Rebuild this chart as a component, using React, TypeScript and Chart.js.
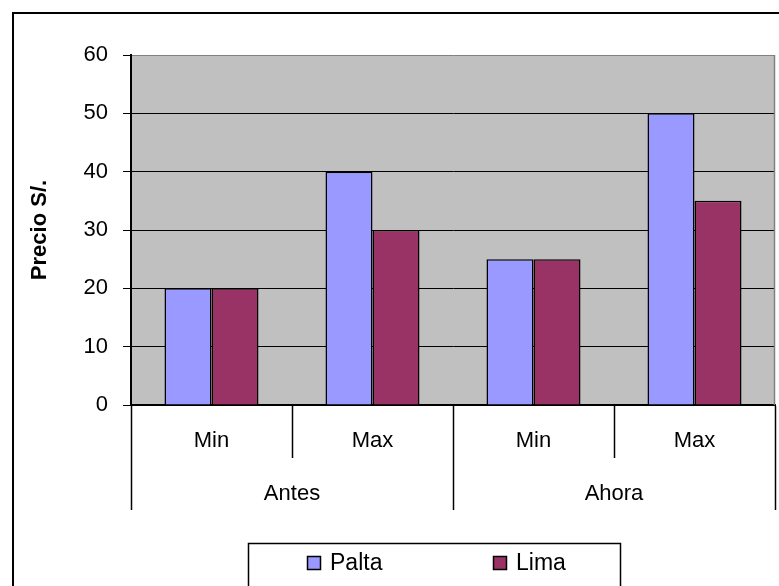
import { useEffect, useRef } from 'react';
import { Chart, registerables } from 'chart.js';

Chart.register(...registerables);

// Price data: two periods, each with a minimum and maximum price
const groups = ['Antes', 'Ahora'];
const categories = ['Min', 'Max', 'Min', 'Max'];
const paltaValues = [20, 40, 25, 50];
const limaValues = [20, 30, 25, 35];
const seriesNames = ['Palta', 'Lima'];
const seriesColors = ['#9999FF', '#993366'];
const yMin = 0;
const yMax = 60;
const yStep = 10;
const yTitle = 'Precio S/.';

const FAMILY = '"Liberation Sans", Arial, Helvetica, sans-serif';
const FONT_SIZE = 22;

// White page, outer frame and grey plot area
const frameAndPlot = {
  id: 'frameAndPlot',
  beforeDraw(chart: any) {
    const { ctx, chartArea } = chart;
    ctx.save();
    ctx.fillStyle = '#ffffff';
    ctx.fillRect(0, 0, chart.width, chart.height);
    ctx.strokeStyle = '#000000';
    ctx.lineWidth = 2;
    ctx.strokeRect(13, 13, chart.width + 20, chart.height + 20);
    ctx.fillStyle = '#C0C0C0';
    ctx.fillRect(chartArea.left, chartArea.top, chartArea.right - chartArea.left, chartArea.bottom - chartArea.top);
    ctx.restore();
  },
  beforeDatasetsDraw(chart: any) {
    const { ctx, chartArea } = chart;
    ctx.save();
    ctx.strokeStyle = '#808080';
    ctx.lineWidth = 1.5;
    ctx.beginPath();
    ctx.moveTo(chartArea.right - 0.5, chartArea.top);
    ctx.lineTo(chartArea.right - 0.5, chartArea.bottom);
    ctx.stroke();
    ctx.restore();
  },
};

// Framed legend below the chart
const boxedLegend = {
  id: 'boxedLegend',
  afterDraw(chart: any) {
    const { ctx } = chart;
    const left = 248;
    const top = 543;
    const right = 620;
    const itemX = [307, 493];
    const rowY = 563;
    ctx.save();
    ctx.fillStyle = '#ffffff';
    ctx.fillRect(left, top, right - left, chart.height - top + 10);
    ctx.strokeStyle = '#000000';
    ctx.lineWidth = 1.5;
    ctx.strokeRect(left + 0.5, top + 0.5, right - left, chart.height - top + 10);
    ctx.font = `${FONT_SIZE + 1}px ${FAMILY}`;
    ctx.textBaseline = 'middle';
    ctx.textAlign = 'left';
    chart.data.datasets.forEach((ds: any, i: number) => {
      const x = itemX[i];
      ctx.fillStyle = ds.backgroundColor;
      ctx.fillRect(x, rowY - 7, 13, 13);
      ctx.lineWidth = 1.5;
      ctx.strokeStyle = '#000000';
      ctx.strokeRect(x + 0.5, rowY - 6.5, 13, 13);
      ctx.fillStyle = '#000000';
      ctx.fillText(ds.label, x + 23, rowY + 1);
    });
    ctx.restore();
  },
};

export default function App() {
  const canvasRef = useRef<HTMLCanvasElement | null>(null);

  useEffect(() => {
    if (!canvasRef.current) return;
    const font = { family: FAMILY, size: FONT_SIZE };
    const chart = new Chart(canvasRef.current, {
      type: 'bar',
      data: {
        labels: categories,
        datasets: [
          {
            label: seriesNames[0],
            data: paltaValues,
            backgroundColor: seriesColors[0],
            borderColor: '#000000',
            borderWidth: 1.5,
            xAxisID: 'x',
          },
          {
            label: seriesNames[1],
            data: limaValues,
            backgroundColor: seriesColors[1],
            borderColor: '#000000',
            borderWidth: 1.5,
            xAxisID: 'x',
          },
        ],
      },
      options: {
        responsive: false,
        animation: false,
        devicePixelRatio: 1,
        layout: { padding: { top: 55, right: 4, bottom: 0, left: 0 } },
        datasets: {
          bar: { categoryPercentage: 0.584, barPercentage: 1 },
        },
        plugins: {
          legend: { display: false },
          tooltip: { enabled: false },
        },
        scales: {
          y: {
            min: yMin,
            max: yMax,
            afterFit: (scale: any) => {
              scale.width = 131;
            },
            ticks: {
              stepSize: yStep,
              color: '#000000',
              font,
              padding: 15,
            },
            grid: {
              color: (c: any) => (c.tick && c.tick.value === yMax ? '#808080' : '#000000'),
              tickColor: '#000000',
              lineWidth: 1,
              tickLength: 8,
            },
            border: { display: true, color: '#000000', width: 2 },
            title: {
              display: true,
              text: yTitle,
              color: '#000000',
              font: { family: FAMILY, size: FONT_SIZE, weight: 'bold' },
              padding: { top: 27, bottom: 0 },
            },
          },
          x: {
            type: 'category',
            position: 'bottom',
            offset: true,
            afterFit: (scale: any) => {
              scale.height = 53;
            },
            ticks: {
              color: '#000000',
              font,
              padding: -30,
              maxRotation: 0,
              autoSkip: false,
            },
            grid: {
              offset: true,
              drawOnChartArea: false,
              drawTicks: true,
              tickLength: 53,
              color: '#000000',
              tickColor: '#000000',
              tickWidth: 1.5,
            },
            border: { display: true, color: '#000000', width: 2 },
          },
          x2: {
            type: 'category',
            position: 'bottom',
            labels: groups,
            offset: true,
            afterFit: (scale: any) => {
              scale.height = 128;
            },
            ticks: {
              color: '#000000',
              font,
              padding: -29,
              maxRotation: 0,
              autoSkip: false,
            },
            grid: {
              offset: true,
              drawOnChartArea: false,
              drawTicks: true,
              tickLength: 52,
              color: '#000000',
              tickColor: '#000000',
              tickWidth: 1.5,
            },
            border: { display: false },
          },
        },
      } as any,
      plugins: [frameAndPlot, boxedLegend],
    });
    return () => chart.destroy();
  }, []);

  return (
    <div style={{ position: 'fixed', left: 0, top: 0, width: 779, height: 586, background: '#ffffff' }}>
      <canvas ref={canvasRef} width={779} height={586} style={{ display: 'block' }} />
    </div>
  );
}
